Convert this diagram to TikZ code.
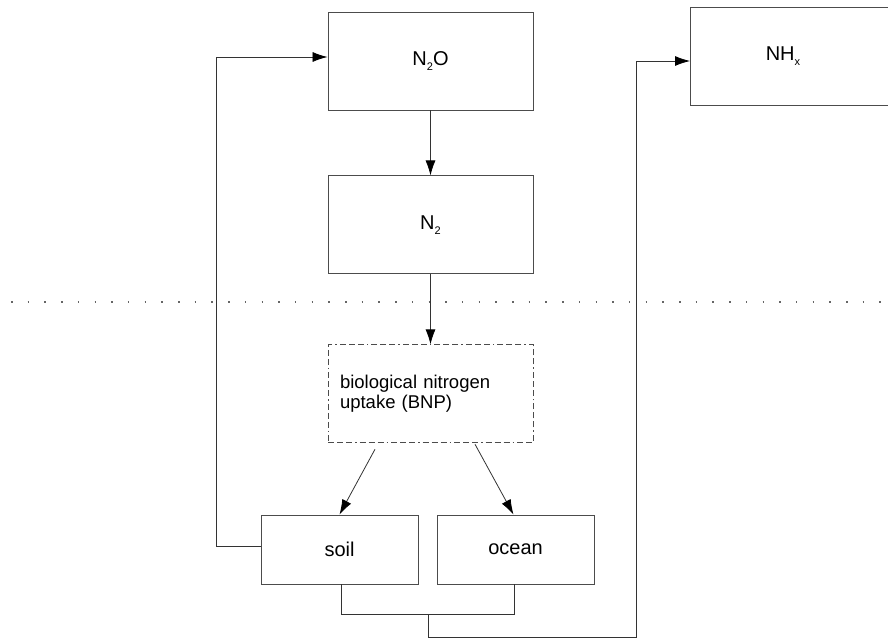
\documentclass[tikz,border=0pt]{standalone}
\usepackage{fontspec}
\setmainfont{Liberation Sans}
\usetikzlibrary{arrows.meta, positioning}
\newcommand{\lowsub}[1]{\raisebox{-0.5ex}{\fontsize{11}{11}\selectfont #1}}
\tikzstyle{block} = [rectangle,
			draw = black!70,
			line width = 0.9pt,
			text centered,
			font = \fontsize{20}{24}\selectfont,
			minimum width = 205pt,
			minimum height = 98pt]
\tikzstyle{small} = [rectangle,
			draw = black!70,
			line width = 0.9pt,
			text centered,
			font = \fontsize{20}{24}\selectfont,
			minimum width = 157pt,
			minimum height = 69pt]
\tikzstyle{bnpbox} = [rectangle,
			draw = black!70,
			line width = 0.9pt,
			dash pattern = on 6pt off 3pt on 6pt off 3pt on 6pt off 3pt on 1.5pt off 3pt,
			align = left,
			text width = 181pt,
			font = \fontsize{18.5}{20}\selectfont,
			minimum width = 205pt,
			minimum height = 98pt]
\tikzstyle{line} = [draw = black!80, line width = 0.8pt]
\tikzstyle{arrow} = [line, -{Latex[length=15pt, width=10pt, black]}]

\begin{document}
\begin{tikzpicture}[x = 1pt, y = -1pt, node distance = 65pt]
	\useasboundingbox (0,0) rectangle (888,639);
	\draw [draw = black!60, line width = 1.2pt, dash pattern = on 1.5pt off 15.2pt] (11,302) -- (888,302);
	\node [block] (n2o) at (430.5,61) {N\lowsub{2}O};
	\node [block, below=of n2o] (n2) {N\lowsub{2}};
	\node [bnpbox, below=70pt of n2] (bnp) {biological nitrogen\\uptake (BNP)};
	\node [block, anchor=west] (nhx) at (690,56) {\hspace*{-20pt}NH\lowsub{x}};
	\node [small] (soil) at (339.5,549.5) {soil};
	\node [small] (ocean) at (515.5,549.5) {ocean};
	\coordinate (merge) at (428,614);
	\draw [arrow] (n2o) -- (n2);
	\draw [arrow] (n2) -- (bnp);
	\draw [arrow] ([xshift=-55.5pt, yshift=-6pt]bnp.south) -- (soil.north);
	\draw [arrow] ([xshift=44.5pt, yshift=-1pt]bnp.south) -- ([xshift=-2pt]ocean.north);
	\draw [arrow] ([yshift=3pt]soil.west) -- ++(-44,0) |- ([yshift=4pt]n2o.west);
	\draw [line] ([xshift=1.5pt]soil.south) -- ++(0,30) -| ([xshift=-1.5pt]ocean.south);
	\draw [arrow] (merge) -- ++(0,23) -- ++(208,0) |- ([yshift=-5pt]nhx.west);
\end{tikzpicture}
\end{document}
